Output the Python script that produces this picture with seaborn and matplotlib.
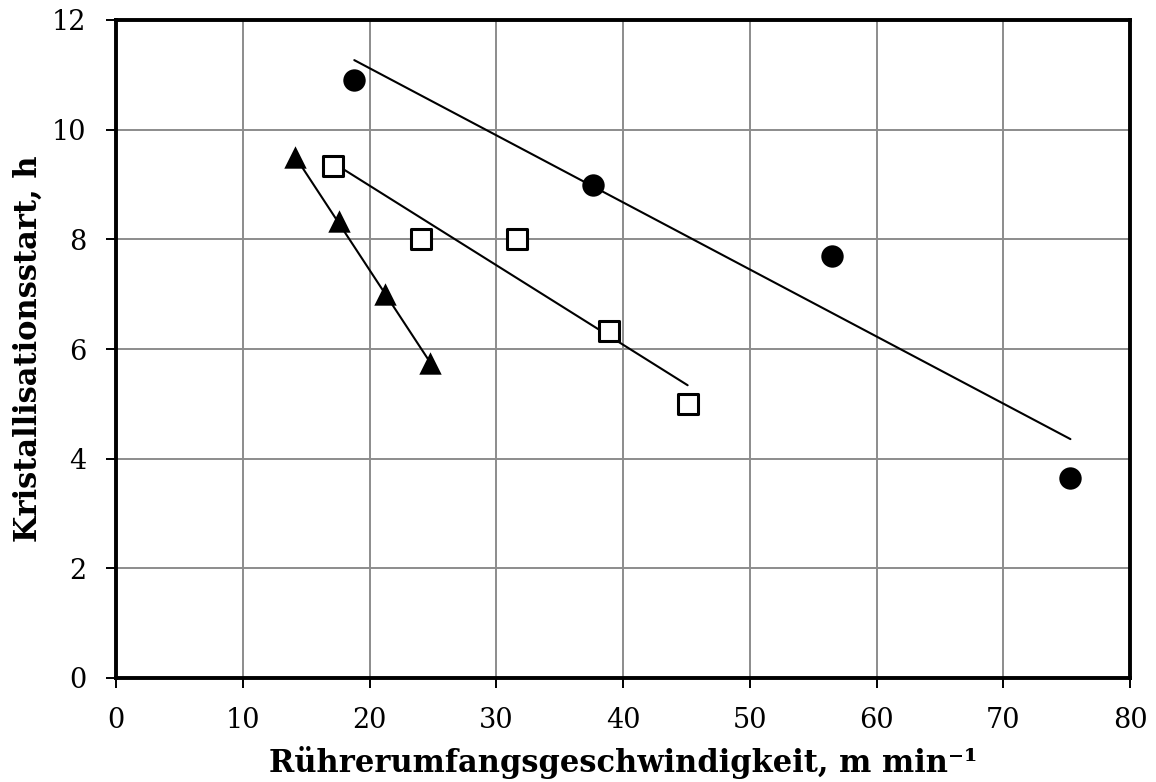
import numpy as np
import pandas as pd
import matplotlib
matplotlib.use("Agg")
import matplotlib.pyplot as plt
import seaborn as sns

# Data
circle_x = [18.8, 37.6, 56.5, 75.3]
circle_y = [10.9, 9.0, 7.7, 3.65]
square_x = [17.1, 24.1, 31.6, 38.9, 45.1]
square_y = [9.33, 8.0, 8.0, 6.33, 5.0]
tri_x = [14.1, 17.6, 21.2, 24.8]
tri_y = [9.5, 8.33, 7.0, 5.75]

x_ticks = [0, 10, 20, 30, 40, 50, 60, 70, 80]
y_ticks = [0, 2, 4, 6, 8, 10, 12]
x_label = "Rührerumfangsgeschwindigkeit, m min⁻¹"
y_label = "Kristallisationsstart, h"

sns.set_theme(style="white")
plt.rcParams['font.family'] = ['DejaVu Serif']
plt.rcParams['mathtext.fontset'] = 'dejavuserif'

fig = plt.figure(figsize=(11.56, 7.82), dpi=100)
ax = fig.add_axes([116/1156, 1 - 678/782, (1130-116)/1156, (678-20)/782])

series = [
    (circle_x, circle_y, dict(marker="o", s=260, color="black", edgecolor="black", linewidth=0)),
    (square_x, square_y, dict(marker="s", s=190, facecolor="white", edgecolor="black", linewidth=2.2)),
    (tri_x, tri_y, dict(marker="^", s=260, color="black", edgecolor="black", linewidth=0)),
]
for xs, ys, kw in series:
    df = pd.DataFrame({"x": xs, "y": ys})
    sns.regplot(data=df, x="x", y="y", ax=ax, ci=None, scatter=False,
                line_kws=dict(color="black", linewidth=1.5, zorder=3))
    sns.scatterplot(data=df, x="x", y="y", ax=ax, zorder=4, legend=False, **kw)

ax.set_xlim(0, 80)
ax.set_ylim(0, 12)
ax.set_xticks(x_ticks)
ax.set_yticks(y_ticks)
ax.grid(True, color="#8c8c8c", linewidth=1.4)
ax.set_axisbelow(True)
for sp in ax.spines.values():
    sp.set_visible(True)
    sp.set_color("black")
    sp.set_linewidth(2.8)
ax.tick_params(axis="both", which="major", direction="out", length=7.2, width=1.4,
               color="black", labelsize=19.5, labelcolor="black", pad=14,
               bottom=True, left=True)
ax.set_xlabel(x_label, fontsize=22, fontweight="bold", color="black", labelpad=8)
ax.set_ylabel(y_label, fontsize=22, fontweight="bold", color="black", labelpad=6)

fig.savefig("out.png", dpi=100)
